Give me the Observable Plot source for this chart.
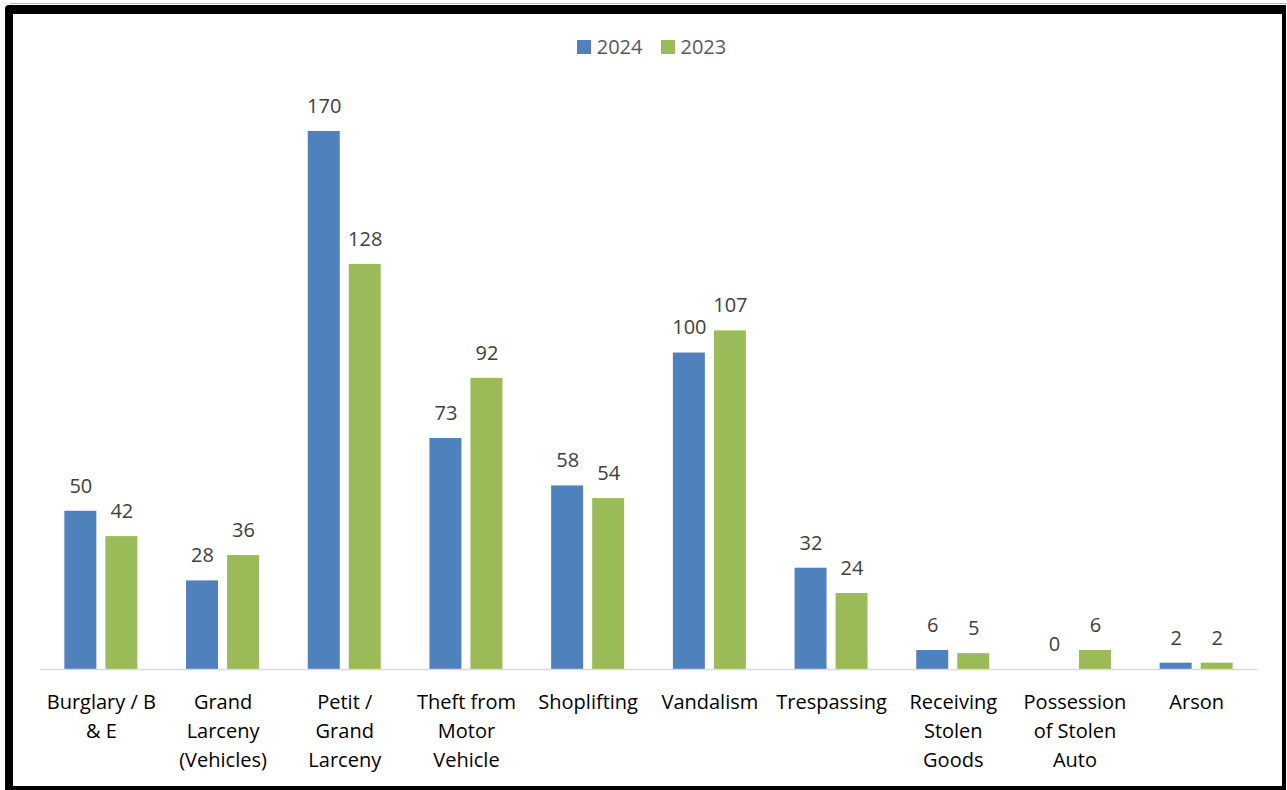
<!DOCTYPE html>
<html>
<head>
<meta charset="utf-8">
<script src="https://cdn.jsdelivr.net/npm/d3@7"></script>
<script src="https://cdn.jsdelivr.net/npm/@observablehq/plot@0.6"></script>
<style>
  html, body { margin: 0; padding: 0; background: #fff; }
  body { width: 1287px; height: 790px; position: relative; overflow: hidden; font-family: "Open Sans", sans-serif; }
  #chart { position: absolute; left: 0; top: 0; }
  #frame { position: absolute; left: 5px; top: 5px; width: 1281px; height: 785px; box-sizing: border-box;
           border-style: solid; border-color: #000; border-width: 9px 4px 4px 8px; border-radius: 4px 0 0 0; pointer-events: none; }
  #topline { position: absolute; left: 10px; top: 3px; width: 1277px; height: 1px; background: #bbb; }
  #legend { position: absolute; top: 33px; left: 8px; width: 1287px; display: flex; justify-content: center; font-size: 20px; line-height: 28px; color: #595959; }
  .item { display: flex; align-items: center; margin: 0 9px; }
  .sw { width: 14px; height: 14px; margin-right: 6px; }
</style>
</head>
<body>
<div id="chart"></div>
<div id="legend"></div>
<div id="topline"></div>
<div id="frame"></div>
<script>
const categories = ["Burglary / B & E", "Grand Larceny (Vehicles)", "Petit / Grand Larceny", "Theft from Motor Vehicle", "Shoplifting", "Vandalism", "Trespassing", "Receiving Stolen Goods", "Possession of Stolen Auto", "Arson"];
const tickLabels = ["Burglary / B\n& E", "Grand\nLarceny\n(Vehicles)", "Petit /\nGrand\nLarceny", "Theft from\nMotor\nVehicle", "Shoplifting", "Vandalism", "Trespassing", "Receiving\nStolen\nGoods", "Possession\nof Stolen\nAuto", "Arson"];
const series = ["2024", "2023"];
const values2024 = [50, 28, 170, 73, 58, 100, 32, 6, 0, 2];
const values2023 = [42, 36, 128, 92, 54, 107, 24, 5, 6, 2];
const colors = ["#4F81BD", "#9BBB59"];

const data = [];
categories.forEach((c, i) => {
  data.push({cat: c, year: "2024", value: values2024[i]});
  data.push({cat: c, year: "2023", value: values2023[i]});
});

const font = "'Open Sans', sans-serif";

const chart = Plot.plot({
  width: 1287,
  height: 790,
  marginLeft: 40,
  marginRight: 30,
  marginTop: 131,
  marginBottom: 121,
  style: {fontFamily: font, background: "transparent"},
  fx: {domain: categories, padding: 0, round: false},
  x: {domain: series, axis: null, paddingInner: 0.22, paddingOuter: 0.594, round: false},
  y: {domain: [0, 170], axis: null},
  color: {domain: series, range: colors},
  marks: [
    Plot.barY(data, {fx: "cat", x: "year", y: "value", fill: "year"}),
    Plot.ruleY([0], {stroke: "#d9d9d9", strokeWidth: 1.5}),
    Plot.text(data, {fx: "cat", x: "year", y: "value", text: d => String(d.value), dy: -25, lineAnchor: "middle", fontSize: 20, fill: "#404040"}),
    Plot.axisFx({anchor: "bottom", tickSize: 0, tickPadding: 19, fontSize: 20, lineHeight: 1.45, label: null, fill: "#000",
                 tickFormat: d => tickLabels[categories.indexOf(d)]})
  ]
});
document.getElementById("chart").appendChild(chart);

const legend = document.getElementById("legend");
series.forEach((s, i) => {
  const item = document.createElement("div");
  item.className = "item";
  const sw = document.createElement("div");
  sw.className = "sw";
  sw.style.background = colors[i];
  const t = document.createElement("span");
  t.textContent = s;
  item.appendChild(sw);
  item.appendChild(t);
  legend.appendChild(item);
});
</script>
</body>
</html>
